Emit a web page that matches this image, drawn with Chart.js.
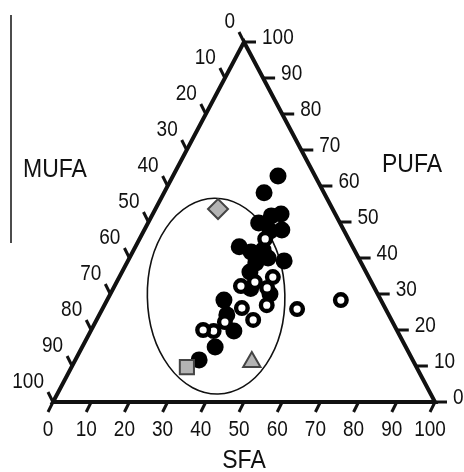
<!DOCTYPE html>
<html>
<head>
<meta charset="utf-8">
<script src="https://cdn.jsdelivr.net/npm/chart.js@4"></script>
<style>
  html, body { margin: 0; padding: 0; background: #fff; }
  canvas { display: block; }
</style>
</head>
<body>
<canvas id="ternary" width="464" height="472"></canvas>
<script>
// ternary values (MUFA = 100 - SFA - PUFA)
var filledSFA  = [27.5, 26.2, 33.6, 31.3, 29.0, 36.0, 33.1, 27.2, 31.0, 33.9, 36.3, 40.9, 33.8, 33.5, 41.8, 30.6, 33.4, 37.5, 34.8, 32.4, 36.0]
var filledPUFA = [62.8, 58.1, 52.2, 51.7, 49.7, 47.8, 47.5, 43.1, 41.7, 42.2, 40.0, 39.2, 38.6, 36.1, 30.0, 28.3, 24.2, 19.7, 15.3, 11.7, 31.5]
var openSFA    = [32.9, 40.2, 36.2, 33.1, 40.2, 36.4, 42.5, 41.0, 51.0, 61.2, 33.9, 32.2, 29.3]
var openPUFA   = [45.3, 34.7, 33.3, 32.2, 31.7, 26.1, 26.9, 22.8, 25.8, 28.3, 22.2, 19.7, 20.0]
var diamondSFA = [16.4], diamondPUFA = [53.6]
var squareSFA  = [30.2], squarePUFA  = [9.7]
var triSFA     = [46.5], triPUFA     = [11.1]
var tickValues = [0, 10, 20, 30, 40, 50, 60, 70, 80, 90, 100]
var axisNames  = { left: 'MUFA', right: 'PUFA', bottom: 'SFA' }
// confidence ellipse, in plot units (x = SFA + PUFA/2, y = PUFA)
var ellipseCenter = [42.7, 29.4], ellipseRadii = [18.0, 27.2]

// ternary -> plot coordinates
function toXY(sfa, pufa) {
    return sfa.map(function (s, i) { return { x: s + pufa[i] / 2, y: pufa[i] } })
}

function stretchedText(ctx, text, x, y, align, size) {
    ctx.save()
    ctx.translate(x, y)
    ctx.scale(1, 1.12)
    ctx.font = size + 'px "Liberation Sans", Arial, sans-serif'
    ctx.textAlign = align
    ctx.textBaseline = 'middle'
    ctx.fillStyle = '#111'
    ctx.fillText(text, 0, 0)
    ctx.restore()
}

var ternaryFrame = {
    id: 'ternaryFrame',
    beforeDatasetsDraw: function (chart) {
        var ctx = chart.ctx
        var xs = chart.scales.x, ys = chart.scales.y
        var px = function (x, y) { return [xs.getPixelForValue(x), ys.getPixelForValue(y)] }
        var bl = px(0, 0), br = px(100, 0), ap = px(50, 100)

        ctx.save()
        // stray frame line at the left
        ctx.strokeStyle = '#111'
        ctx.lineWidth = 1.5
        ctx.beginPath()
        ctx.moveTo(11, 15)
        ctx.lineTo(11, 243)
        ctx.stroke()

        // ellipse
        var c = px(ellipseCenter[0], ellipseCenter[1])
        var rx = xs.getPixelForValue(ellipseCenter[0] + ellipseRadii[0]) - c[0]
        var ry = c[1] - ys.getPixelForValue(ellipseCenter[1] + ellipseRadii[1])
        ctx.lineWidth = 1.6
        ctx.beginPath()
        ctx.ellipse(c[0], c[1], rx, ry, -0.02, 0, Math.PI * 2)
        ctx.stroke()

        // triangle
        ctx.lineWidth = 4
        ctx.lineJoin = 'miter'
        ctx.beginPath()
        ctx.moveTo(bl[0], bl[1])
        ctx.lineTo(br[0], br[1])
        ctx.lineTo(ap[0], ap[1])
        ctx.closePath()
        ctx.stroke()

        // ticks and tick labels
        ctx.lineWidth = 3
        ctx.lineCap = 'butt'
        tickValues.forEach(function (v) {
            // bottom: SFA
            var b = px(v, 0)
            ctx.beginPath()
            ctx.moveTo(b[0], b[1])
            ctx.lineTo(b[0] - 5, b[1] + 10)
            ctx.stroke()
            stretchedText(ctx, String(v), b[0] - 5, 430, 'center', 19)

            // right: PUFA
            var r = px(100 - v / 2, v)
            ctx.beginPath()
            ctx.moveTo(r[0], r[1])
            ctx.lineTo(r[0] + 12, r[1])
            ctx.stroke()
            stretchedText(ctx, String(v), r[0] + 18, r[1] - 4, 'left', 19)

            // left: MUFA
            var l = px((100 - v) / 2, 100 - v)
            ctx.beginPath()
            ctx.moveTo(l[0], l[1])
            ctx.lineTo(l[0] - 5, l[1] - 10)
            ctx.stroke()
            stretchedText(ctx, String(v), l[0] - 9, l[1] - 20, 'right', 19)
        })

        stretchedText(ctx, axisNames.left, 55, 170, 'center', 23)
        stretchedText(ctx, axisNames.right, 412, 165, 'center', 23)
        stretchedText(ctx, axisNames.bottom, 244, 461, 'center', 23)
        ctx.restore()
    }
}

var grey = '#b4b4b4'
var chart = new Chart(document.querySelector('#ternary'), {
    type: 'scatter',
    data: {
        datasets: [
            {
                label: 'diamond',
                data: toXY(diamondSFA, diamondPUFA),
                pointStyle: 'rectRot',
                pointRadius: 10,
                backgroundColor: grey,
                borderColor: '#444',
                borderWidth: 2
            },
            {
                label: 'square',
                data: toXY(squareSFA, squarePUFA),
                pointStyle: 'rect',
                pointRadius: 10,
                backgroundColor: grey,
                borderColor: '#444',
                borderWidth: 2
            },
            {
                label: 'triangle',
                data: toXY(triSFA, triPUFA),
                pointStyle: 'triangle',
                pointRadius: 10,
                backgroundColor: grey,
                borderColor: '#444',
                borderWidth: 2
            },
            {
                label: 'open',
                data: toXY(openSFA, openPUFA),
                pointRadius: 5.8,
                backgroundColor: '#fff',
                borderColor: '#000',
                borderWidth: 4.4
            },
            {
                label: 'filled',
                data: toXY(filledSFA, filledPUFA),
                pointRadius: 8.5,
                backgroundColor: '#000',
                borderColor: '#000',
                borderWidth: 0
            }
        ]
    },
    options: {
        responsive: false,
        animation: false,
        devicePixelRatio: 1,
        clip: false,
        layout: {
            padding: { left: 53, right: 29, top: 42, bottom: 70 }
        },
        scales: {
            x: { type: 'linear', min: 0, max: 100, display: false },
            y: { type: 'linear', min: 0, max: 100, display: false }
        },
        plugins: {
            legend: { display: false },
            tooltip: { enabled: false }
        }
    },
    plugins: [ternaryFrame]
})
</script>
</body>
</html>
